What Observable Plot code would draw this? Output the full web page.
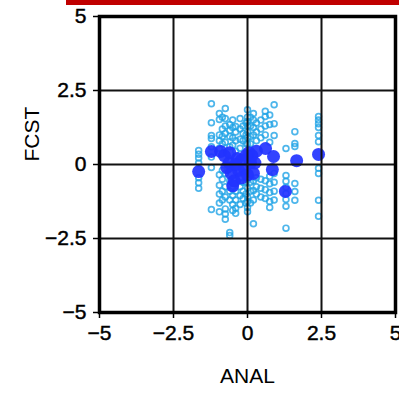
<!DOCTYPE html>
<html>
<head>
<meta charset="utf-8">
<script src="https://cdn.jsdelivr.net/npm/d3@7"></script>
<script src="https://cdn.jsdelivr.net/npm/@observablehq/plot@0.6"></script>
<style>
  html, body { margin: 0; padding: 0; overflow: hidden; background: #fff; }
  #wrap { position: relative; width: 399px; height: 394px; }
  #bar { position: absolute; left: 66px; top: 0; width: 333px; height: 5px; background: #c00000; }
  #wrap svg g[aria-label$="tick"] path, #wrap svg g[aria-label$="axis"] path { stroke-width: 1.5; }
  #wrap svg g[aria-label$="tick label"] text { stroke: #000; stroke-width: 0.45px; }
</style>
</head>
<body>
<div id="wrap"><div id="bar"></div></div>
<script>
// Tick values
const tickValues = [-5, -2.5, 0, 2.5, 5];
const gridValues = [-2.5, 0, 2.5];

// Light points: ANAL column positions and FCST values per column
const columnAnal = [-1.65, -1.22, -0.95, -0.85, -0.75, -0.6, -0.5, -0.4, -0.25, -0.15, -0.05, 0, 0.1, 0.2, 0.3, 0.45, 0.6, 0.75, 0.9, 1.3, 1.6, 2.4];
const columnFcst = [
  [0.47, 0.35, 0.22, 0.05, -0.45, -0.62, -0.8],
  [2.05, 1.41, 0.98, 0.88, 0.6, 0.25, -0.1, -1.52],
  [1.72, 1.52, 1.0, 0.8, 0.55, -0.35, -0.7, -1.0, -1.3, -1.6],
  [1.6, 1.2, 0.95, 0.7, -0.2, -0.5, -0.9, -1.2],
  [1.89, 1.55, 1.3, 1.05, 0.75, -0.3, -0.75, -1.1, -1.5, -1.67, -1.85],
  [1.35, 1.15, 0.95, 0.6, -0.55, -0.9, -1.2, -2.3, -2.4],
  [1.5, 1.25, 0.9, 0.65, -0.8, -1.05, -1.35, -1.55],
  [1.28, 1.1, 0.8, 0.45, -0.9, -1.2, -1.48, -1.65],
  [1.55, 1.2, 0.85, 0.55, -0.45, -0.75, -1.05, -1.35],
  [1.3, 1.05, 0.8, -0.6, -0.9, -1.15],
  [1.4, 1.0, 0.7, -0.6, -1.0, -1.3],
  [1.85, 1.6, 1.45, 1.3, 1.1, 0.9, 0.7, -0.5, -0.8, -1.1, -1.25, -1.45, -1.6],
  [1.6, 1.3, 0.95, 0.7, -0.6, -0.9, -1.3],
  [1.72, 1.5, 1.25, 1.0, -0.55, -0.88, -1.2, -2.0],
  [1.4, 1.1, 0.8, -0.45, -0.75, -1.0],
  [1.5, 1.2, 0.9, -0.5, -0.8, -1.1],
  [1.8, 1.62, 1.3, 1.0, -0.55, -0.85, -1.15],
  [1.67, 1.35, 0.75, -0.4, -0.65, -0.95, -1.25, -1.45],
  [2.02, 1.38, 0.98, -0.3, -0.6, -0.9, -1.2],
  [0.54, -0.37, -0.57, -0.77, -0.98, -1.18, -1.41, -2.15],
  [1.11, 0.71, 0.61, -0.64, -0.91, -1.21],
  [1.62, 1.5, 1.38, 1.25, 0.98, 0.77, -0.13, -0.3, -1.21, -1.75]
];

// Dark (mean) points
const meanAnal = [-1.65, -1.22, -0.91, -0.78, -0.62, -0.55, -0.45, -0.5, -0.35, -0.3, -0.2, -0.1, 0.05, 0.1, 0.2, 0.15, 0.3, 0.61, 0.88, 0.84, 1.28, 1.66, 2.4, -0.7, -0.4, -0.2, 0.0, 0.25, -0.05, -0.6];
const meanFcst = [-0.24, 0.44, 0.44, 0.3, 0.05, -0.3, -0.55, -0.72, 0.2, -0.2, 0.15, -0.15, 0.4, 0.05, -0.3, 0.3, 0.45, 0.54, 0.27, -0.17, -0.91, 0.13, 0.34, -0.1, 0.0, -0.45, -0.35, 0.05, 0.3, 0.4];

const light = columnAnal.flatMap((a, i) => columnFcst[i].map(f => ({anal: a, fcst: f})));
const means = meanAnal.map((a, i) => ({anal: a, fcst: meanFcst[i]}));

const chart = Plot.plot({
  width: 399,
  height: 394,
  marginLeft: 99,
  marginRight: 4,
  marginTop: 16,
  marginBottom: 82,
  style: {fontFamily: "Liberation Sans, Arial, sans-serif", fontSize: "21px", color: "#000", background: "transparent"},
  x: {domain: [-5, 5], ticks: tickValues, tickFormat: d3.format("~g"), tickSize: 6, tickPadding: 7, label: null},
  y: {domain: [-5, 5], ticks: tickValues, tickFormat: d3.format("~g"), tickSize: 6, tickPadding: 7, label: null},
  marks: [
    Plot.dot(light, {x: "anal", y: "fcst", r: 2.9, stroke: "#22a4e6", strokeWidth: 1.7, strokeOpacity: 0.8, fill: "none"}),
    Plot.dot(means, {x: "anal", y: "fcst", r: 6.5, fill: "#2233ff", fillOpacity: 0.92, stroke: "none"}),
    Plot.ruleX(gridValues, {stroke: "#111", strokeWidth: 2}),
    Plot.ruleY(gridValues, {stroke: "#111", strokeWidth: 2}),
    Plot.frame({stroke: "#000", strokeWidth: 3.5}),
    Plot.text(["ANAL"], {frameAnchor: "bottom", dy: 70, fill: "#000", fontSize: 21}),
    Plot.text(["FCST"], {frameAnchor: "left", dx: -67, dy: -3, rotate: -90, fill: "#000", fontSize: 21})
  ]
});
document.getElementById("wrap").appendChild(chart);
</script>
</body>
</html>
